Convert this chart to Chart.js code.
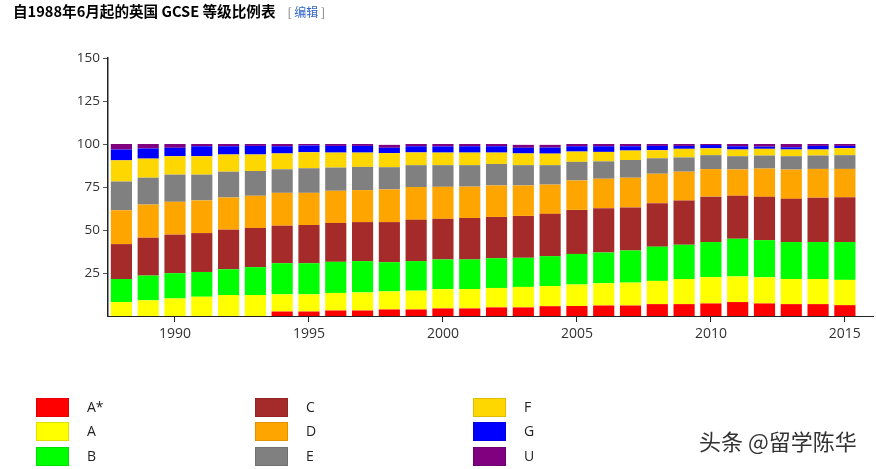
<!DOCTYPE html>
<html>
<head>
<meta charset="utf-8">
<script src="https://cdn.jsdelivr.net/npm/chart.js@4/dist/chart.umd.min.js"></script>
<style>
  body { margin: 0; background: #fff; font-family: "Open Sans", "Noto Sans CJK SC", sans-serif; }
  #wrap { position: relative; width: 876px; height: 469px; overflow: hidden; }
  #title { position: absolute; left: 13px; top: 0px; font-family: "Noto Sans CJK SC", sans-serif; font-weight: bold; font-size: 14.6px; color: #000; white-space: nowrap; }
  #title .edit { font-weight: normal; font-size: 12px; color: #777; margin-left: 12px; }
  #title .edit a { color: #3366cc; text-decoration: none; }
  #myChart { position: absolute; left: 0; top: 0; }
  .legend-item { position: absolute; height: 19px; font-size: 14px; color: #222; }
  .legend-item span.box { position: absolute; left: 0; top: 0; width: 31px; height: 17px; border: 1px solid rgba(0,0,0,0.12); }
  .legend-item span.txt { position: absolute; left: 51px; top: -1px; line-height: 19px; }
  #mark { position: absolute; left: 699px; top: 424px; font-family: "Noto Sans CJK SC", sans-serif; font-size: 22px; color: #333; text-shadow: 0 0 2px #fff; }
</style>
</head>
<body>
<div id="wrap">
  <canvas id="myChart" width="876" height="469"></canvas>
  <div id="title">自1988年6月起的英国 GCSE 等级比例表<span class="edit">[ <a>编辑</a> ]</span></div>
  <div id="legend"></div>
  <div id="mark">头条 @留学陈华</div>
</div>
<script>
var years = [1988, 1989, 1990, 1991, 1992, 1993, 1994, 1995, 1996, 1997,
             1998, 1999, 2000, 2001, 2002, 2003, 2004, 2005, 2006, 2007,
             2008, 2009, 2010, 2011, 2012, 2013, 2014, 2015];

var grades = ['A*', 'A', 'B', 'C', 'D', 'E', 'F', 'G', 'U'];
var gradeColors = ['#ff0000', '#ffff00', '#00ff00', '#a52a2a', '#ffa500',
                   '#808080', '#ffd700', '#0000ff', '#800080'];

// percentage of entries at each grade, per year
var gradeAStar = [0, 0, 0, 0, 0, 0, 2.6, 2.6, 3.2, 3.2, 3.8, 3.8, 4.4, 4.4, 5.0, 5.0, 5.7, 5.8, 6.1, 6.1, 6.9, 6.9, 7.3, 8.1, 7.3, 6.9, 6.9, 6.3];
var gradeA     = [8.1, 9.1, 10.2, 11.2, 12.2, 12.2, 10.0, 10.0, 10.2, 10.5, 10.5, 10.9, 11.2, 11.3, 11.3, 11.9, 11.7, 12.5, 12.9, 13.3, 13.5, 14.6, 15.3, 14.9, 15.2, 14.6, 14.6, 14.7];
var gradeB     = [13.4, 14.4, 14.7, 14.4, 15.0, 16.2, 18.1, 18.1, 18.1, 18.2, 17.0, 17.2, 17.3, 17.2, 17.3, 16.9, 17.4, 17.8, 17.9, 18.7, 19.9, 19.9, 20.4, 21.9, 21.6, 21.5, 21.5, 22.0];
var gradeC     = [20.3, 22.0, 22.4, 22.6, 23.0, 22.8, 21.8, 22.2, 22.6, 22.7, 23.3, 24.0, 23.6, 24.1, 24.0, 24.4, 24.6, 25.6, 25.8, 25.0, 25.3, 25.7, 26.4, 25.0, 25.2, 25.1, 25.8, 26.1];
var gradeD     = [19.7, 19.3, 19.1, 19.0, 18.7, 18.7, 19.1, 18.7, 18.7, 18.6, 19.0, 19.1, 18.6, 18.2, 18.3, 17.7, 17.0, 17.1, 17.1, 17.3, 17.1, 16.8, 16.0, 15.3, 16.4, 17.0, 16.7, 16.4];
var gradeE     = [16.7, 15.6, 15.8, 15.0, 15.0, 14.4, 13.7, 14.3, 13.5, 13.5, 12.9, 12.7, 12.6, 12.5, 12.5, 11.8, 11.3, 10.8, 10.1, 10.3, 9.0, 8.3, 8.1, 7.7, 7.6, 7.8, 7.8, 8.0];
var gradeF     = [12.3, 11.1, 10.7, 10.7, 10.0, 9.6, 9.2, 9.3, 8.7, 8.3, 8.2, 7.4, 7.3, 7.3, 6.6, 6.8, 6.7, 6.0, 5.5, 5.5, 4.7, 5.0, 4.0, 3.9, 3.9, 3.9, 3.5, 4.1];
var gradeG     = [6.3, 5.9, 4.9, 5.8, 4.8, 5.0, 4.2, 3.9, 3.9, 3.9, 3.1, 3.6, 3.6, 3.7, 3.7, 3.3, 3.5, 3.1, 3.3, 2.5, 2.5, 1.7, 1.9, 1.9, 1.3, 1.3, 2.1, 1.3];
var gradeU     = [3.2, 2.6, 2.2, 1.3, 1.3, 1.1, 1.3, 0.9, 1.1, 1.1, 1.7, 1.3, 1.4, 1.3, 1.3, 1.7, 1.6, 1.3, 1.3, 1.3, 1.1, 1.1, 0.6, 1.3, 1.5, 1.9, 1.1, 1.1];

var gradeValues = [gradeAStar, gradeA, gradeB, gradeC, gradeD, gradeE, gradeF, gradeG, gradeU];

var yTicks = [25, 50, 75, 100, 125, 150];
var xTicks = [1990, 1995, 2000, 2005, 2010, 2015];

var datasets = [];
for (var i = 0; i < grades.length; i++) {
  datasets.push({
    label: grades[i],
    data: gradeValues[i],
    backgroundColor: gradeColors[i],
    borderWidth: 0,
    barPercentage: 0.79,
    categoryPercentage: 1
  });
}

var ctx = document.getElementById('myChart').getContext('2d');
var myChart = new Chart(ctx, {
  type: 'bar',
  data: { labels: years, datasets: datasets },
  options: {
    responsive: false,
    animation: false,
    layout: { padding: { left: 0, top: 58, right: 3, bottom: 123 } },
    plugins: { legend: { display: false }, tooltip: { enabled: true } },
    scales: {
      x: {
        type: 'linear',
        stacked: true,
        offset: false,
        min: 1987.5,
        max: 2016.05,
        afterBuildTicks: function(scale) {
          scale.ticks = xTicks.map(function(v) { return { value: v }; });
        },
        afterFit: function(scale) { scale.height = 30; },
        ticks: { color: '#333', font: { family: 'Open Sans', size: 14 }, padding: 4,
                 callback: function(v) { return String(v); } },
        grid: { offset: false, drawOnChartArea: false, drawTicks: true, tickLength: 6, color: '#222' },
        border: { color: '#222', width: 1 }
      },
      y: {
        stacked: true,
        min: 0,
        max: 150,
        afterBuildTicks: function(scale) {
          scale.ticks = yTicks.map(function(v) { return { value: v }; });
        },
        afterFit: function(scale) { scale.width = 108; },
        ticks: { color: '#333', font: { family: 'Open Sans', size: 13.5 }, padding: 3 },
        grid: { drawOnChartArea: false, drawTicks: true, tickLength: 5, color: '#555' },
        border: { color: '#222', width: 1.5 }
      }
    }
  }
});

// legend: three columns, filled top to bottom
var legendCols = [36, 255, 473];
var legendRows = [398, 422, 447];
var legendHtml = '';
for (var g = 0; g < grades.length; g++) {
  var col = Math.floor(g / 3), row = g % 3;
  legendHtml += '<div class="legend-item" style="left:' + legendCols[col] + 'px;top:' + legendRows[row] + 'px">' +
    '<span class="box" style="background:' + gradeColors[g] + '"></span>' +
    '<span class="txt">' + grades[g] + '</span></div>';
}
document.getElementById('legend').innerHTML = legendHtml;
</script>
</body>
</html>
